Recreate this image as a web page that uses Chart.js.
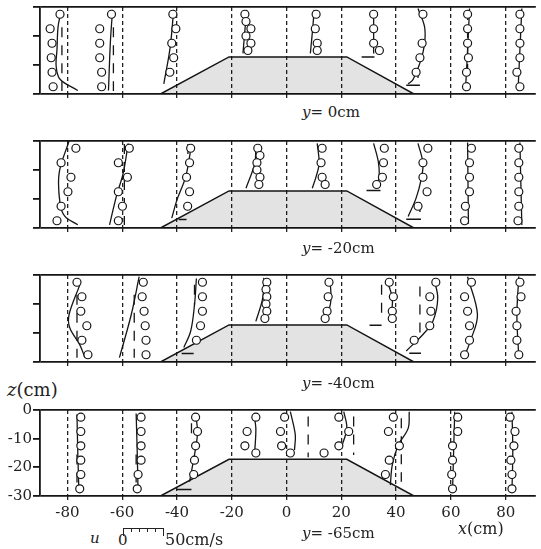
<!DOCTYPE html>
<html><head><meta charset="utf-8">
<script src="https://cdn.jsdelivr.net/npm/chart.js@4.4.0/dist/chart.umd.min.js"></script>
<style>
html,body{margin:0;padding:0;background:#fff;}
body{width:541px;height:549px;position:relative;overflow:hidden;font-family:'DejaVu Serif',serif;color:#222;}
canvas{position:absolute;left:0;}
.t{position:absolute;white-space:nowrap;font-size:15px;line-height:18px;}
.t i{font-style:italic;}
#bar{position:absolute;left:123px;top:528px;width:41px;height:0;border-top:1.5px solid #222;}
.tk{position:absolute;top:0;width:0;height:3px;border-left:1.2px solid #222;}
.tk.e{height:7px;}
</style></head><body>
<canvas id="c1" width="541" height="102" style="top:0px"></canvas>
<canvas id="c2" width="541" height="102" style="top:134px"></canvas>
<canvas id="c3" width="541" height="102" style="top:268px"></canvas>
<canvas id="c4" width="541" height="126" style="top:400px"></canvas>
<div class="t" style="left:302px;top:103px"><i>y</i>= 0cm</div>
<div class="t" style="left:302px;top:239px"><i>y</i>= -20cm</div>
<div class="t" style="left:302px;top:374px"><i>y</i>= -40cm</div>
<div class="t" style="left:302px;top:524px"><i>y</i>= -65cm</div>
<div class="t" style="left:7px;top:380px;font-size:18px;line-height:20px"><i>z</i>(cm)</div>
<div class="t" style="left:458px;top:520px;font-size:16px"><i>x</i>(cm)</div>
<div class="t" style="left:90px;top:529px"><i>u</i></div>
<div class="t" style="left:118px;top:531px">0</div>
<div id="bar"></div>
<div class="t" style="left:165px;top:531px;font-size:16px">50cm/s</div>
<script>
// ---- axes ----
const xTicks = [-80, -60, -40, -20, 0, 20, 40, 60, 80];
const zTicks = [0, -10, -20, -30];
// ---- submerged mound (x, z) ----
const moundX = [-46, -21, 22, 46.5];
const moundZ = [-30, -17.2, -17.2, -30];

// ---- panel 1 : y = 0cm ----
const p1CircX = [-82.7,-86.3,-85.6,-85.9,-85.6,-85.2, -63.9,-68.2,-68.2,-68.2,-67.5,-67.5, -41.5,-40.4,-41.9,-41.2,-42.6, -15.2,-14.8,-13,-14.8,-13,-14.1, 10.8,10.5,11.2,11.2, 31.8,31.8,31.8,33.9, 49.8,49.5,48.7,47.3, 66.1,66.1,66.1,66.4,65.7,65.7, 85.2,85.2,85.2,85.2,84.1,85.2];
const p1CircZ = [-2.5,-7.5,-12.5,-17.5,-22.5,-27.5, -2.5,-7.5,-12.5,-17.5,-22.5,-27.5, -2.5,-7.5,-12.5,-17.5,-22.5, -2.5,-5,-7.5,-10,-12.5,-15, -2.5,-7.5,-12.5,-15, -2.5,-7.5,-12.5,-15, -2.5,-12.5,-17.5,-22.5, -2.5,-7.5,-12.5,-17.5,-22.5,-27.5, -2.5,-7.5,-12.5,-17.5,-22.5,-27.5];
const p1SolX = [-82.3,-83.4,-83.8,-84.1,-82.7,-76.2,null, -63.5,-64.3,-65,null, -41.2,-42.5,-44.8,null, -14.5,-15.2,-15.9,null, 10.1,9.5,8.7,null, 31.8,31.8,null, 48,50.5,49.8,46.2,44.4,null, 66.8,66.1,65.3,null, 85.9,84.5];
const p1SolZ = [-1.5,-6.8,-14.7,-20.5,-24.9,-28.8,null, -1,-12,-28.8,null, -1,-14,-26.5,null, -1,-8,-16,null, -1,-8,-16,null, -1,-16,null, -0.5,-7.5,-15.7,-25,-26.5,null, -0.5,-15,-29,null, -0.5,-29];
const p1DashX = [-82,-82,null, -63.2,-63.2,null, 48,48,null, 66.1,66.1];
const p1DashZ = [-7,-29,null, -7,-29,null, -21,-26,null, -1,-29];
const p1MarkX = [27.4,32.1,null, 43.7,48.7];
const p1MarkZ = [-17.2,-17.2,null, -27,-27];

// ---- panel 2 : y = -20cm ----
const p2CircX = [-76.9,-82.3,-78.7,-79.8,-82.3,-83.8, -57.4,-61.4,-58.1,-61.4,-59.9,-61.4, -35,-35.4,-36.5,-35.4,-36.1, -10.5,-9.7,-10.8,-10.8,-9.7,-10.1, 13,12.6,13,14.1, 35.7,35.4,35,32.9, 51.6,49.8,49.8,51.3,48, 67.5,66.8,66.8,66.8,65.3,65, 84.8,84.8,84.8,84.8,84.8,84.5];
const p2CircZ = [-2.5,-7.5,-12.5,-17.5,-22.5,-27.5, -2.5,-7.5,-12.5,-17.5,-22.5,-27.5, -2.5,-7.5,-12.5,-17.5,-22.5, -2.5,-5,-7.5,-10,-12.5,-15, -2.5,-7.5,-12.5,-15, -2.5,-7.5,-12.5,-15, -2.5,-7.5,-12.5,-17.5,-22.5, -2.5,-7.5,-12.5,-17.5,-22.5,-27.5, -2.5,-7.5,-12.5,-17.5,-22.5,-27.5];
const p2SolX = [-79.4,-83,-82.7,-80.9,-76.2,null, -57.8,-59.6,-62.1,-64.6,null, -34.7,-36.8,-40,-41.9,null, -11.2,-11.6,-14.8,null, 11.2,11.9,10.8,9.4,null, 31.8,33.6,33.6,32.1,null, 48,49.8,49.1,47.3,44.4,null, 66.1,66.4,null, 85.2,85.9];
const p2SolZ = [0,-11,-21.4,-26,-28.9,null, -0.8,-11,-19,-28.9,null, -1.4,-12.3,-20.3,-26.6,null, -1.4,-7.7,-16.3,null, -0.8,-7.7,-12.3,-16.3,null, -0.8,-7.7,-13.4,-15.1,null, -0.8,-7.7,-13.4,-19.7,-26,null, -0.5,-28.5,null, -0.5,-29];
const p2DashX = [-59.2,-59.2,null, -36,-36,null, 48.7,48.7];
const p2DashZ = [-1,-29,null, -1,-7,null, -21,-25.5];
const p2MarkX = [-39.4,-36.5,null, 29.2,34.3,null, 43.7,49.1];
const p2MarkZ = [-27.1,-27.1,null, -17.1,-17.1,null, -27,-27];

// ---- panel 3 : y = -40cm ----
const p3CircX = [-76.5,-74.7,-75.1,-72.9,-74.7,-72.5, -52.3,-52.7,-52,-51.6,-51.3,-51.3, -30.7,-30.7,-30.7,-31.4,-32.9, -7.2,-7.5,-7.2,-7.5,-7.2,-7.9, 15.5,15.2,14.8,14.1, 37.5,39,38.6,38.6, 54.5,52.3,52.7,52.3,46.6, 67.5,65,66.1,66.8,66.8,65, 85.2,85.6,83.8,84.1,84.1,84.8];
const p3CircZ = [-2.5,-7.5,-12.5,-17.5,-22.5,-27.5, -2.5,-7.5,-12.5,-17.5,-22.5,-27.5, -2.5,-7.5,-12.5,-17.5,-22.5, -2.5,-5,-7.5,-10,-12.5,-15, -2.5,-7.5,-12.5,-15, -2.5,-7.5,-12.5,-15, -2.5,-7.5,-12.5,-17.5,-22.5, -2.5,-7.5,-12.5,-17.5,-22.5,-27.5, -2.5,-7.5,-12.5,-17.5,-22.5,-27.5];
const p3SolX = [-75.5,-79.4,-79.1,-75.5,-73.6,null, -53.8,-56.7,-61,null, -32.9,-33.6,-35,-37.5,null, -8.3,-8.7,-11.2,null, 15.9,16.2,14.8,null, 36.5,38.6,38.3,38.3,null, 53.8,55.2,53.4,49.8,43.7,null, 66.1,69.7,67.1,65,null, 84.8,84.1,84.8];
const p3SolZ = [-3.5,-13.7,-18.3,-24,-28.5,null, -0.6,-13.7,-28.5,null, -1.2,-10.3,-19.4,-25,null, -1,-8,-16,null, -2,-8.7,-14.8,null, -1.4,-8,-13.7,-15.4,null, -1.2,-8,-16,-20.5,-26.2,null, -0.6,-13.7,-22.8,-28,null, -0.5,-14,-28.5];
const p3DashX = [-76.5,-76.5,null, -55.6,-55.6,null, -33.6,-33.6,null, 34.7,34.7,null, 48.7,48.7];
const p3DashZ = [-6.8,-28.5,null, -6.8,-28.5,null, -3.4,-10.3,null, -3.4,-15.4,null, -4,-20.5];
const p3MarkX = [-38.3,-33.9,null, 30.3,34.7,null, 44.8,49.1];
const p3MarkZ = [-27.1,-27.1,null, -17.3,-17.3,null, -27,-27];

// ---- panel 4 : y = -65cm ----
const p4CircX = [-75.1,-75.1,-75.1,-75.1,-75.1,-75.5, -53.1,-53.1,-53.1,-53.1,-54.2,-54.5, -33.2,-32.5,-33.2,-33.6,-33.9, -11.2,-14.4,-15.2,-11.2, -0.7,-2.2,-1.8,1.4,13.7, 19.1,22.7,19.1, 39,37.2,41.2,37.5,36.1, 62.5,62.5,60.6,60.6,60.3,60.6, 81.6,83.4,83,81.9,82.3,82.3];
const p4CircZ = [-2.5,-7.5,-12.5,-17.5,-22.5,-27.5, -2.5,-7.5,-12.5,-17.5,-22.5,-27.5, -2.5,-7.5,-12.5,-17.5,-22.5, -2.5,-7.5,-12.5,-15, -2.5,-7.5,-12.5,-15,-15, -2.5,-7.5,-12.5, -2.5,-7.5,-12.5,-17.5,-22.5, -2.5,-7.5,-12.5,-17.5,-22.5,-27.5, -2.5,-7.5,-12.5,-17.5,-22.5,-27.5];
const p4SolX = [-76.5,-76.2,-75.8,null, -54.9,-54.5,-54.2,null, -33.2,-32.5,-33.2,-35.4,null, -11.9,-11.2,-11.6,null, 1.4,3.2,2.9,null, 20.9,22,19.9,null, 44.8,44.4,40.8,38.6,37.9,null, 61.4,60.6,null, 82.3,82.6,82.3];
const p4SolZ = [-1.5,-15,-28.5,null, -1.2,-15,-28.5,null, -1.2,-7.6,-13.4,-25,null, -1.7,-6.4,-14.5,null, -0.6,-8.7,-14,null, -0.6,-6.4,-13.4,null, -0.6,-6.4,-12.2,-19.2,-26.2,null, -0.6,-28.5,null, -0.6,-14,-28.5];
const p4DashX = [-76.5,-76.5,null, -54.9,-54.9,null, -34.7,-34.7,null, 7.9,7.9,null, 24.5,24.5,null, 41.9,41.9];
const p4DashZ = [-15.5,-28.5,null, -15.5,-28.5,null, -4.6,-9.9,null, -2.3,-16.5,null, -2.3,-15.7,null, -2.9,-25];
const p4MarkX = [-40,-34.7];
const p4MarkZ = [-27.7,-27.7];

// scale-bar ticks (0 .. 50 cm/s, every 10 cm/s)
(function(){const b=document.getElementById('bar');for(let i=0;i<=5;i++){const d=document.createElement('div');d.className='tk'+((i===0||i===5)?' e':'');d.style.left=(i*8.1-0.5)+'px';b.appendChild(d);}})();

function pts(xs, zs){
  return xs.map((x,i)=> x===null ? {x:0, y:null} : {x:x, y:zs[i]});
}
const INK = '#151515';
const FONT = {family:"'DejaVu Serif', serif", size:15};

function makePanel(id, cx, cz, sx, sz, dx, dz, mx, mz, labels, padTop){
  new Chart(document.getElementById(id), {
    type:'line',
    data:{datasets:[
      {data:pts(cx,cz), showLine:false, pointRadius:4, pointBorderWidth:1.2, pointBackgroundColor:'#fff', pointBorderColor:INK, pointStyle:'circle'},
      {data:pts(sx,sz), borderColor:INK, borderWidth:1.3, pointRadius:0, tension:0.35, spanGaps:false},
      {data:pts(dx,dz), borderColor:INK, borderWidth:1.3, borderDash:[10,8], pointRadius:0, spanGaps:false},
      {data:pts(mx,mz), borderColor:INK, borderWidth:1.5, pointRadius:0, spanGaps:false},
      {data:pts(moundX,moundZ), borderColor:INK, borderWidth:1.5, pointRadius:0, tension:0, fill:{value:-30}, backgroundColor:'rgba(0,0,0,0.11)'}
    ]},
    options:{
      responsive:false, animation:false, devicePixelRatio:1,
      layout:{padding:{top:padTop, left:0, right:0, bottom:0}},
      plugins:{legend:{display:false}, tooltip:{enabled:false}},
      scales:{
        x:{type:'linear', min:-90, max:91,
           afterBuildTicks:s=>{s.ticks = xTicks.map(v=>({value:v}));},
           afterFit:s=>{s.height = labels ? 30 : 8;},
           grid:{color:'#222', lineWidth:1.3, tickLength:6, tickColor:'#222', tickBorderDash:[4,3]},
           border:{display:false, dash:[4,3]},
           ticks:{display:labels, font:FONT, color:'#222', padding:2, maxRotation:0, autoSkip:false}
        },
        y:{type:'linear', min:-30, max:0,
           afterBuildTicks:s=>{s.ticks = zTicks.map(v=>({value:v}));},
           afterFit:s=>{s.width = 40;},
           grid:{color:c=>(c.tick && (c.tick.value===0 || c.tick.value===-30)) ? INK : 'rgba(0,0,0,0)', tickColor:INK, lineWidth:1.8, tickLength:7},
           border:{display:true, color:INK, width:1.8},
           ticks:{display:labels, font:FONT, color:'#222', padding:1}
        }
      }
    }
  });
}
makePanel('c1', p1CircX,p1CircZ,p1SolX,p1SolZ,p1DashX,p1DashZ,p1MarkX,p1MarkZ,false,7);
makePanel('c2', p2CircX,p2CircZ,p2SolX,p2SolZ,p2DashX,p2DashZ,p2MarkX,p2MarkZ,false,7);
makePanel('c3', p3CircX,p3CircZ,p3SolX,p3SolZ,p3DashX,p3DashZ,p3MarkX,p3MarkZ,false,7);
makePanel('c4', p4CircX,p4CircZ,p4SolX,p4SolZ,p4DashX,p4DashZ,p4MarkX,p4MarkZ,true,10);
</script>
</body></html>
